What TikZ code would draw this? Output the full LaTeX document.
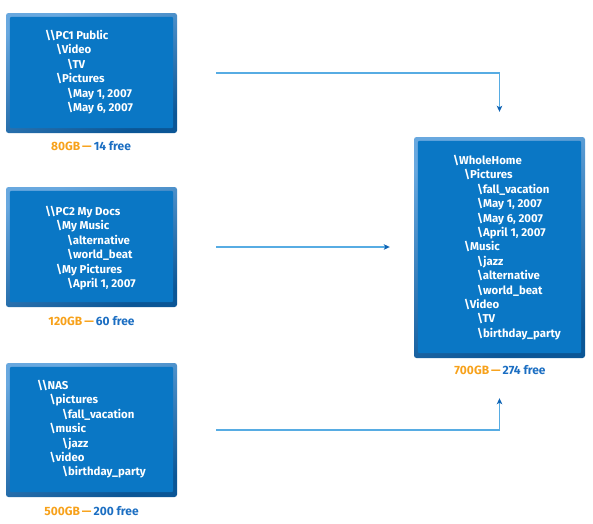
\documentclass[tikz,border=0pt]{standalone}
\usepackage{fontspec}
\setmainfont{Fira Sans}
\usetikzlibrary{arrows.meta}
\definecolor{facecol}{HTML}{0A77C5}
\definecolor{rimlight}{HTML}{68A8DF}
\definecolor{rimdark}{HTML}{0B5696}
\definecolor{linecol}{HTML}{57ACE3}
\definecolor{tipcol}{HTML}{0D63B4}
\definecolor{capor}{HTML}{F7A11A}
\definecolor{capbl}{HTML}{1B6EC2}
\tikzset{
  drivebox/.style={rectangle, rounded corners=2.5pt, minimum width=171pt, inner sep=0pt,
    top color=rimlight, bottom color=rimdark, shading angle=20},
  treetext/.style={anchor=north west, inner sep=0pt, align=left, text=white,
    font=\fontsize{11.4}{14.4}\selectfont\bfseries},
  captext/.style={inner sep=0pt, font=\fontsize{12}{13}\selectfont\bfseries},
  link/.style={draw=linecol, line width=1.1pt, -{Stealth[length=6pt,width=5.5pt,inset=1.5pt,color=tipcol]}},
}
\newcommand{\bs}{\textbackslash}
\newcommand{\ia}{\hspace*{11pt}}
\newcommand{\ib}{\hspace*{22pt}}
\newcommand{\facefill}[1]{\fill[facecol, rounded corners=2pt] ([shift={(4pt,-4pt)}]#1.north west) rectangle ([shift={(-4pt,5pt)}]#1.south east);}
\begin{document}
\begin{tikzpicture}[x=1pt,y=-1pt]
\useasboundingbox (0,0) rectangle (593,523);
% boxes
\node[drivebox, minimum height=120pt] (b1) at (91.5,73) {};
\node[drivebox, minimum height=120pt] (b2) at (91.5,247) {};
\node[drivebox, minimum height=134pt] (b3) at (91.5,430) {};
\node[drivebox, minimum height=221pt] (r) at (499.5,247.5) {};
\facefill{b1}
\facefill{b2}
\facefill{b3}
\facefill{r}
% texts
\node[treetext] (t1) at (45,30) {\bs\bs PC1 Public\\ \ia\bs Video\\ \ib\bs TV\\ \ia\bs Pictures\\ \ib\bs May 1, 2007\\ \ib\bs May 6, 2007};
\node[treetext] (t2) at (45,206) {\bs\bs PC2 My Docs\\ \ia\bs My Music\\ \ib\bs alternative\\ \ib\bs world\_beat\\ \ia\bs My Pictures\\ \ib\bs April 1, 2007};
\node[treetext] (t3) at (37,380) {\bs\bs NAS\\ \hspace*{12.5pt}\bs pictures\\ \hspace*{25pt}\bs fall\_vacation\\ \hspace*{12.5pt}\bs music\\ \hspace*{25pt}\bs jazz\\ \hspace*{12.5pt}\bs video\\ \hspace*{25pt}\bs birthday\_party};
\node[treetext] (tr) at (453,155) {\bs WholeHome\\ \ia\bs Pictures\\ \hspace*{24pt}\bs fall\_vacation\\ \hspace*{24pt}\bs May 1, 2007\\ \hspace*{24pt}\bs May 6, 2007\\ \hspace*{24pt}\bs April 1, 2007\\ \ia\bs Music\\ \hspace*{24pt}\bs jazz\\ \hspace*{24pt}\bs alternative\\ \hspace*{24pt}\bs world\_beat\\ \ia\bs Video\\ \hspace*{24pt}\bs TV\\ \hspace*{24pt}\bs birthday\_party};
% captions
\node[captext] (c1) at (91,146) {\textcolor{capor}{80GB\,—\,}\textcolor{capbl}{14 free}};
\node[captext] (c2) at (91.5,321) {\textcolor{capor}{120GB\,—\,}\textcolor{capbl}{60 free}};
\node[captext] (c3) at (91.5,511) {\textcolor{capor}{500GB\,—\,}\textcolor{capbl}{200 free}};
\node[captext] (cr) at (500,370) {\textcolor{capor}{700GB\,—\,}\textcolor{capbl}{274 free}};
% connectors
\draw[link] ([xshift=39pt]b1.east) -| ([yshift=25pt]r.north);
\draw[link] ([xshift=39pt]b2.east) -- ([xshift=-24pt]b2.east -| r.west);
\draw[link] ([xshift=39pt]b3.east) -| ([yshift=-40pt]r.south);
\end{tikzpicture}
\end{document}
